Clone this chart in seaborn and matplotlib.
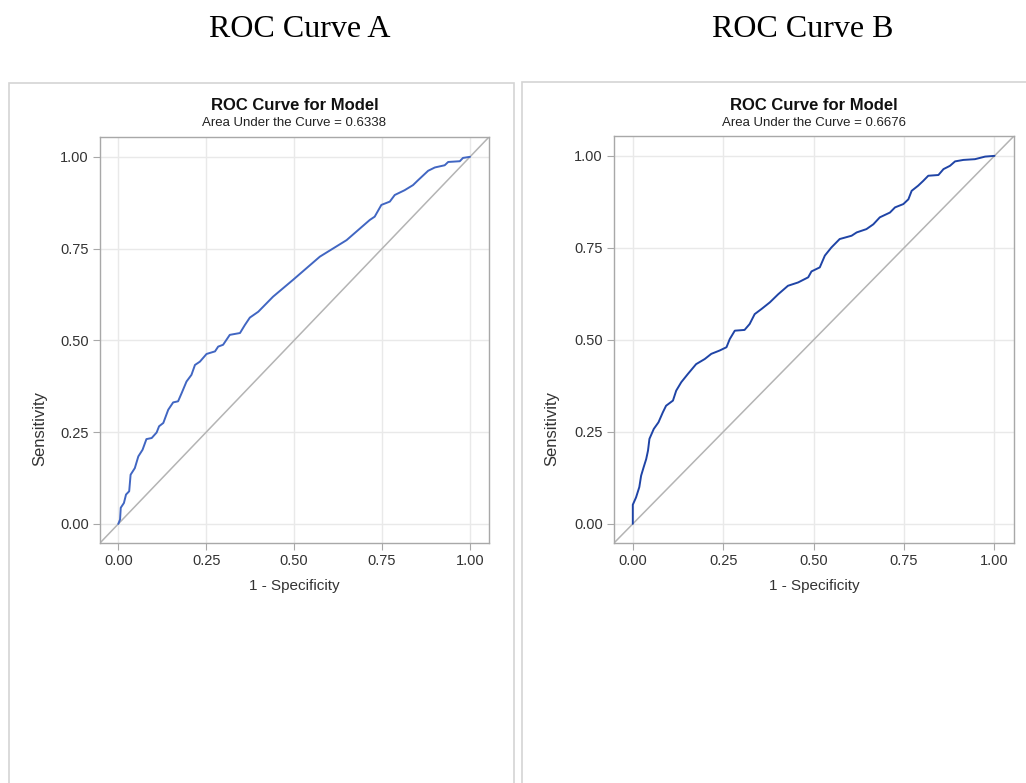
import pandas as pd
import matplotlib.pyplot as plt
import matplotlib.patches as mpatches
import seaborn as sns

sns.set_theme(style="whitegrid")
plt.rcParams['font.family'] = ['Liberation Sans', 'DejaVu Sans']

# =====================
# Data
# =====================
fpr_a = [0.0, 0.005, 0.007, 0.016, 0.022, 0.031, 0.035, 0.047, 0.057, 0.069,
         0.080, 0.095, 0.109, 0.116, 0.128, 0.142, 0.156, 0.170, 0.180, 0.194,
         0.208, 0.218, 0.232, 0.251, 0.275, 0.284, 0.298, 0.317, 0.346, 0.360,
         0.374, 0.398, 0.440, 0.497, 0.573, 0.649, 0.715, 0.729, 0.748, 0.772,
         0.786, 0.814, 0.838, 0.852, 0.881, 0.900, 0.928, 0.938, 0.971, 0.980, 1.0]
tpr_a = [0.0, 0.012, 0.044, 0.057, 0.080, 0.089, 0.134, 0.152, 0.184, 0.202,
         0.231, 0.234, 0.249, 0.266, 0.275, 0.311, 0.331, 0.334, 0.356, 0.388,
         0.406, 0.433, 0.442, 0.463, 0.470, 0.483, 0.488, 0.515, 0.520, 0.542,
         0.562, 0.578, 0.619, 0.665, 0.728, 0.773, 0.828, 0.837, 0.869, 0.878,
         0.896, 0.909, 0.923, 0.936, 0.962, 0.971, 0.977, 0.986, 0.988, 0.997, 1.0]

fpr_b = [0.0, 0.0, 0.009, 0.018, 0.023, 0.030, 0.037, 0.042, 0.046, 0.058,
         0.071, 0.083, 0.092, 0.111, 0.120, 0.134, 0.152, 0.175, 0.199, 0.217,
         0.240, 0.259, 0.268, 0.282, 0.309, 0.323, 0.337, 0.356, 0.379, 0.402,
         0.429, 0.457, 0.485, 0.494, 0.517, 0.531, 0.549, 0.572, 0.605, 0.619,
         0.646, 0.665, 0.683, 0.711, 0.725, 0.748, 0.762, 0.771, 0.789, 0.803,
         0.817, 0.845, 0.859, 0.877, 0.891, 0.914, 0.946, 0.974, 1.0]
tpr_b = [0.0, 0.052, 0.072, 0.100, 0.131, 0.154, 0.176, 0.199, 0.231, 0.258,
         0.276, 0.303, 0.321, 0.335, 0.362, 0.385, 0.407, 0.434, 0.448, 0.462,
         0.471, 0.480, 0.502, 0.525, 0.527, 0.543, 0.570, 0.584, 0.602, 0.624,
         0.647, 0.656, 0.670, 0.686, 0.697, 0.729, 0.751, 0.774, 0.783, 0.792,
         0.801, 0.814, 0.833, 0.846, 0.860, 0.869, 0.882, 0.905, 0.919, 0.932,
         0.946, 0.948, 0.964, 0.973, 0.985, 0.989, 0.991, 0.998, 1.0]

panel_titles = ['ROC Curve A', 'ROC Curve B']
auc_values = ['0.6338', '0.6676']
curve_colors = ['#4166c2', '#1f44a6']
ticks = [0.0, 0.25, 0.5, 0.75, 1.0]
tick_labels = ['0.00', '0.25', '0.50', '0.75', '1.00']

curves = [pd.DataFrame({'fpr': fpr_a, 'tpr': tpr_a}),
          pd.DataFrame({'fpr': fpr_b, 'tpr': tpr_b})]

# =====================
# Figure layout (pixel based, 1026x783)
# =====================
W, H = 1026, 783
fig = plt.figure(figsize=(W / 100, H / 100), dpi=100)
fig.patch.set_facecolor('white')

def px_rect(x0, y0, x1, y1):
    # convert top-left pixel box to figure fraction [left, bottom, width, height]
    return [x0 / W, 1 - y1 / H, (x1 - x0) / W, (y1 - y0) / H]

axes_boxes = [(100, 137, 489, 543), (614, 136, 1014, 543)]
panel_boxes = [(9, 83, 514, 800), (522, 82, 1040, 800)]
label_x = [40, 552]

for i in range(2):
    # light frame around each panel
    r = px_rect(*panel_boxes[i])
    fig.patches.append(mpatches.Rectangle((r[0], r[1]), r[2], r[3], transform=fig.transFigure,
                                          fill=False, edgecolor='#d4d4d4', linewidth=1.2))

    ax = fig.add_axes(px_rect(*axes_boxes[i]))
    ax.set_facecolor('white')
    ax.axline((0, 0), slope=1, color='#b4b4b4', linewidth=1.1, zorder=2)
    sns.lineplot(data=curves[i], x='fpr', y='tpr', ax=ax, color=curve_colors[i],
                 linewidth=1.4, estimator=None, sort=False, zorder=3)

    ax.set_xlim(-0.052, 1.054)
    ax.set_ylim(-0.052, 1.054)
    ax.set_xticks(ticks)
    ax.set_yticks(ticks)
    ax.set_xticklabels(tick_labels)
    ax.set_yticklabels(tick_labels)
    ax.grid(True, color='#e9e9e9', linewidth=1.0)
    for s in ax.spines.values():
        s.set_color('#a8a8a8')
        s.set_linewidth(1.0)
    ax.tick_params(axis='both', which='major', direction='out', length=5, width=0.8,
                   color='#a8a8a8', labelsize=10.5, labelcolor='#333333', pad=3,
                   bottom=True, left=True)
    ax.set_xlabel('1 - Specificity', fontsize=11, color='#333333', labelpad=8)
    ax.set_ylabel('')

    cx = (axes_boxes[i][0] + axes_boxes[i][2]) / 2
    fig.text(label_x[i] / W, 1 - 428 / H, 'Sensitivity', rotation=90, ha='center',
             va='center', fontsize=12, color='#333333')
    fig.text(cx / W, 1 - 110 / H, 'ROC Curve for Model', ha='center', va='baseline',
             fontsize=12, fontweight='bold', color='#111111')
    fig.text(cx / W, 1 - 126 / H, 'Area Under the Curve = ' + auc_values[i],
             ha='center', va='baseline', fontsize=9.5, color='#222222')

    # big serif caption above each panel
    fig.text([300, 803][i] / W, 1 - 37 / H, panel_titles[i], ha='center', va='baseline',
             fontsize=23, family=['Liberation Serif', 'DejaVu Serif'], color='black')

fig.savefig('out.png', dpi=100, facecolor='white')
